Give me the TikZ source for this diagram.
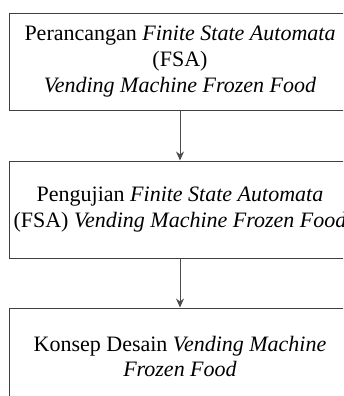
\documentclass[tikz,border=0pt]{standalone}
\usepackage{fontspec}
\setmainfont{Liberation Serif}
\usetikzlibrary{positioning}
\usetikzlibrary{arrows.meta}

\begin{document}
\begin{tikzpicture}[
  tahap/.style={draw=black!75,line width=0.5pt,minimum width=171pt,minimum height=48.5pt,
    inner sep=0pt,align=center,font=\fontsize{11pt}{12.8pt}\selectfont},
  panah/.style={draw=black!70,line width=0.5pt,-{Stealth[length=4.5pt,width=4pt]}}]
  \clip (0,0) rectangle (171.5pt,-198pt);
  \node[tahap] (rancang) at (90pt,-30.75pt)
    {Perancangan \textit{Finite State Automata}\\(FSA)\\\textit{Vending Machine Frozen Food}};
  \node[tahap,below=25pt of rancang] (uji)
    {Pengujian \textit{Finite State Automata}\\(FSA) \textit{Vending Machine Frozen Food}};
  \node[tahap,below=24.5pt of uji] (konsep)
    {Konsep Desain \textit{Vending Machine}\\\textit{Frozen Food}};

  \draw[panah] (rancang) -- (uji);
  \draw[panah] (uji) -- (konsep);
\end{tikzpicture}
\end{document}
